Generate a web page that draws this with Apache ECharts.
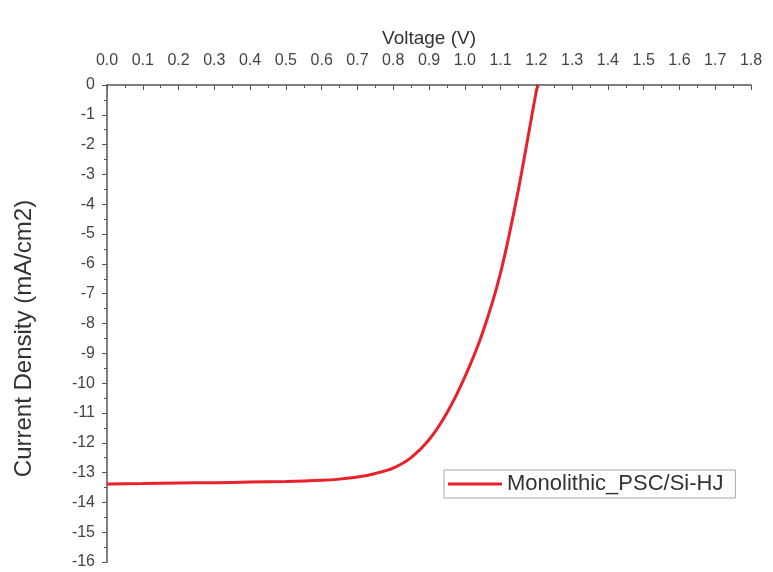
<!DOCTYPE html>
<html><head><meta charset="utf-8">
<script src="https://cdn.jsdelivr.net/npm/echarts@6/dist/echarts.min.js"></script>
<style>html,body{margin:0;padding:0;background:#fff}#c{width:773px;height:572px}</style>
</head><body><div id="c"></div>
<script>
const voltage = [0.0, 0.1, 0.2, 0.3, 0.4, 0.5, 0.6, 0.65, 0.7, 0.75, 0.8, 0.85, 0.9, 0.95, 1.0, 1.05, 1.1, 1.15, 1.2, 1.205];
const currentDensity = [-13.38, -13.37, -13.35, -13.34, -13.32, -13.3, -13.26, -13.22, -13.15, -13.03, -12.85, -12.5, -11.9, -11.0, -9.8, -8.3, -6.3, -3.5, -0.2, 0];
const seriesName = 'Monolithic_PSC/Si-HJ';

const chart = echarts.init(document.getElementById('c'));
const axisColor = '#555';
const font = 'Liberation Sans';
chart.setOption({
  animation: false,
  backgroundColor: '#fff',
  grid: {left: 107, top: 85, right: 22, bottom: 10, containLabel: false, outerBoundsMode: 'none'},
  legend: {
    left: 444, top: 470, data: [seriesName],
    borderColor: '#aaa', borderWidth: 1, padding: [3, 12, 3, 4],
    itemWidth: 54, itemHeight: 20, itemGap: 4,
    textStyle: {fontFamily: font, fontSize: 22, color: '#333'},
    icon: 'path://M0,8.5L54,8.5L54,11.5L0,11.5Z'
  },
  xAxis: {
    type: 'value', position: 'top', min: 0, max: 1.8, interval: 0.1,
    name: 'Voltage (V)', nameLocation: 'middle', nameGap: 30,
    nameTextStyle: {fontFamily: font, fontSize: 19, color: '#333'},
    axisLine: {show: true, onZero: false, lineStyle: {color: axisColor, width: 1.5}},
    axisTick: {show: true, inside: true, length: 5, lineStyle: {color: axisColor}},
    minorTick: {show: true, splitNumber: 2, length: 3, lineStyle: {color: axisColor}},
    axisLabel: {fontFamily: font, fontSize: 16, color: '#444', margin: 16,
      formatter: v => v.toFixed(1)},
    splitLine: {show: false}
  },
  yAxis: {
    type: 'value', min: -16, max: 0, interval: 1,
    name: 'Current Density (mA/cm2)', nameLocation: 'middle', nameGap: 71, nameRotate: 90,
    nameTextStyle: {fontFamily: font, fontSize: 24, color: '#333', padding: [0, 30, 0, 0]},
    axisLine: {show: true, onZero: false, lineStyle: {color: axisColor, width: 1.5}},
    axisTick: {show: true, inside: false, length: 5, lineStyle: {color: axisColor}},
    minorTick: {show: true, splitNumber: 2, length: 3, lineStyle: {color: axisColor}},
    axisLabel: {fontFamily: font, fontSize: 16, color: '#444', margin: 12},
    splitLine: {show: false}
  },
  series: [{
    name: seriesName, type: 'line', smooth: 0.3, showSymbol: false,
    data: voltage.map((v, i) => [v, currentDensity[i]]),
    lineStyle: {color: '#e8212b', width: 3},
    itemStyle: {color: '#e8212b'}
  }]
});
</script>
</body></html>
